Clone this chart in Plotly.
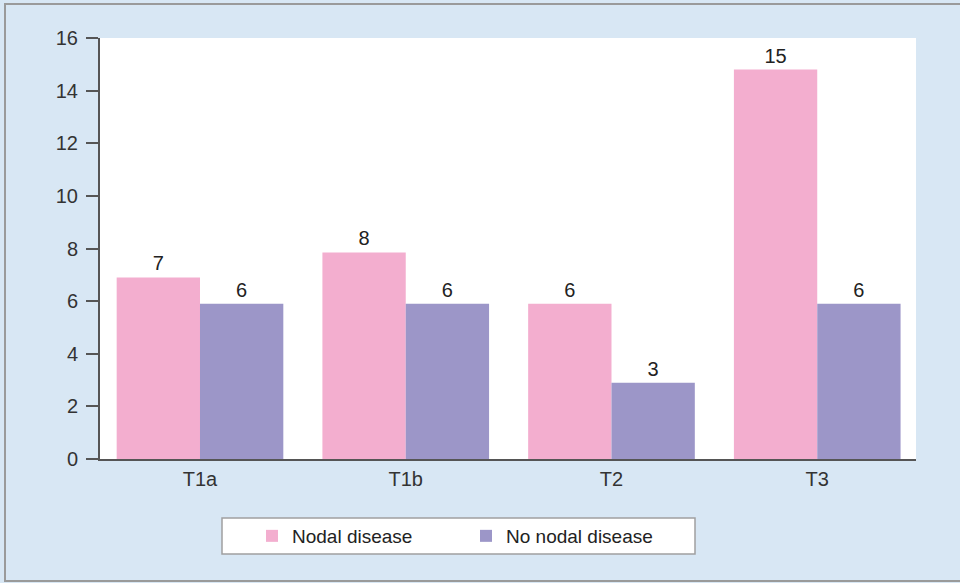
import plotly.graph_objects as go

categories = ["T1a", "T1b", "T2", "T3"]
nodal_values = [6.9, 7.85, 5.9, 14.8]
no_nodal_values = [5.9, 5.9, 2.9, 5.9]
nodal_labels = ["7", "8", "6", "15"]
no_nodal_labels = ["6", "6", "3", "6"]
y_ticks = [0, 2, 4, 6, 8, 10, 12, 14, 16]

PINK = "#f3aecf"
PURPLE = "#9c96c8"
BG = "#d8e7f4"
FONT = "Liberation Sans, Arial, sans-serif"

fig = go.Figure()
fig.add_trace(go.Bar(
    x=categories, y=nodal_values, name="Nodal disease",
    marker=dict(color=PINK, line=dict(width=0)),
    text=nodal_labels, textposition="outside", cliponaxis=False,
    textfont=dict(size=20, color="#222222", family=FONT),
))
fig.add_trace(go.Bar(
    x=categories, y=no_nodal_values, name="No nodal disease",
    marker=dict(color=PURPLE, line=dict(width=0)),
    text=no_nodal_labels, textposition="outside", cliponaxis=False,
    textfont=dict(size=20, color="#222222", family=FONT),
))

L, R, T, B = 100, 44, 38, 124
W, H = 960, 583
pw, ph = W - L - R, H - T - B

def px(x):
    return (x - L) / pw

def py(y):
    return (H - B - y) / ph

shapes = [
    # outer frame (right side runs off the page)
    dict(type="rect", xref="paper", yref="paper", layer="below",
         x0=px(5), x1=px(1100), y0=py(581), y1=py(4),
         line=dict(color="#9a9a9a", width=2), fillcolor="rgba(0,0,0,0)"),
    # legend box
    dict(type="rect", xref="paper", yref="paper",
         x0=px(222), x1=px(695), y0=py(554), y1=py(518),
         line=dict(color="#a0a0a0", width=1.5), fillcolor="white", layer="below"),
]

fig.update_layout(
    width=W, height=H,
    margin=dict(l=L, r=R, t=T, b=B, pad=0),
    paper_bgcolor=BG, plot_bgcolor="white",
    font=dict(family=FONT, size=19, color="#333333"),
    barmode="group", bargap=0.19, bargroupgap=0,
    shapes=shapes,
    showlegend=True,
    legend=dict(
        orientation="h", x=px(252), xanchor="left", y=py(517), yanchor="top",
        bgcolor="rgba(0,0,0,0)", borderwidth=0,
        font=dict(size=19, color="#222222", family=FONT),
        entrywidth=169, entrywidthmode="pixels", traceorder="normal",
    ),
    xaxis=dict(
        range=[-0.486, 3.48], showgrid=False, zeroline=False,
        showline=True, linecolor="#555555", linewidth=2,
        ticks="", ticklabelstandoff=1,
        tickfont=dict(size=20, color="#333333"),
    ),
    yaxis=dict(
        range=[0, 16], tickvals=y_ticks, showgrid=False, zeroline=False,
        showline=True, linecolor="#555555", linewidth=2,
        ticks="outside", ticklen=12, tickwidth=1.5, tickcolor="#555555",
        ticklabelstandoff=4,
        tickfont=dict(size=20, color="#333333"),
    ),
)

fig.write_html(
    "out.html",
    config={"displayModeBar": False},
    post_script="document.body.style.margin='0';document.body.style.overflow='hidden';",
)
